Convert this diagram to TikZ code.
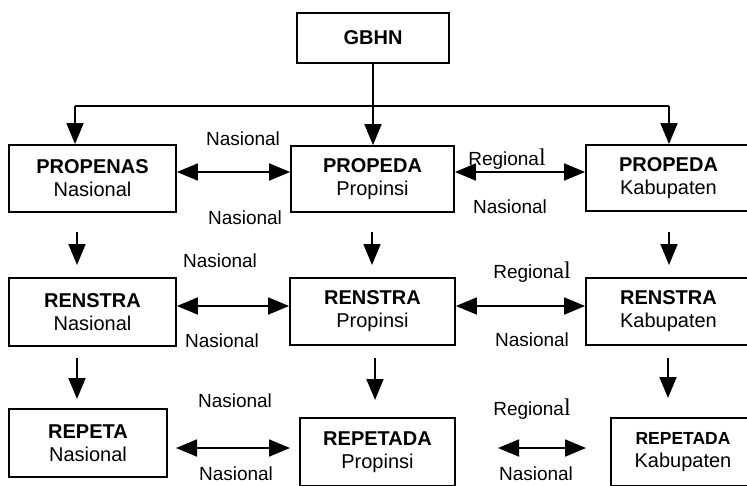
\documentclass[tikz,border=0pt]{standalone}
\usepackage{fontspec}
\setmainfont{Liberation Sans}
\newfontfamily\seriffam{Liberation Serif}
\usetikzlibrary{arrows.meta}

% "Regional" with its final l set in a serif face
\newcommand\regl{Regiona{\seriffam\fontsize{24}{24}\selectfont l}}

\tikzset{
  bigtri/.tip={Triangle[length=21pt,width=17pt]},
  box/.style={draw, line width=1.8pt, align=center, inner sep=0pt,
              font=\fontsize{20}{23}\selectfont},
  lbl/.style={anchor=base, inner sep=0pt, font=\fontsize{19}{22}\selectfont},
  arr/.style={line width=1.8pt, -bigtri},
  darr/.style={line width=1.8pt, bigtri-bigtri},
  plain/.style={line width=1.8pt}
}

\begin{document}
\begin{tikzpicture}[x=1pt, y=-1pt]
\useasboundingbox (0,0) rectangle (747,485);
\clip (0,0) rectangle (747,485);

% top level
\node[box, minimum width=152pt, minimum height=50pt] (gbhn) at (373,38) {\textbf{GBHN}};

% row 1
\node[box, minimum width=167pt, minimum height=67pt] (pn) at (92.5,178.5) {\textbf{PROPENAS}\\Nasional};
\node[box, minimum width=163pt, minimum height=66pt] (pp) at (372.5,179) {\textbf{PROPEDA}\\Propinsi};
\node[box, minimum width=165pt, minimum height=66pt] (pk) at (668.5,178) {\textbf{PROPEDA}\\Kabupaten};

% row 2
\node[box, minimum width=167pt, minimum height=68pt] (rn) at (92.5,312) {\textbf{RENSTRA}\\Nasional};
\node[box, minimum width=165pt, minimum height=67pt] (rp) at (372.5,311.5) {\textbf{RENSTRA}\\Propinsi};
\node[box, minimum width=165pt, minimum height=67pt] (rk) at (668.5,311.5) {\textbf{RENSTRA}\\Kabupaten};

% row 3
\node[box, minimum width=158pt, minimum height=68pt] (en) at (88,443) {\textbf{REPETA}\\Nasional};
\node[box, minimum width=155pt, minimum height=68pt] (ep) at (377.5,452) {\textbf{REPETADA}\\Propinsi};
\node[box, minimum width=144pt, minimum height=68pt] (ek) at (683,452) {{\fontsize{17.5}{23}\selectfont\textbf{REPETADA}}\\Kabupaten};

% distribution from GBHN
\coordinate (jl) at (75,106);
\coordinate (jr) at (669,106);
\draw[plain] (jl) -- (jr);
\draw[arr] (jl) -- (jl |- pn.north);
\draw[arr] (jr) -- (jr |- pk.north);
\draw[arr] (gbhn.south) -- (gbhn.south |- pp.north);

% downward arrows between rows
\coordinate (a1s) at (77,232);  \coordinate (a1e) at (77,265);
\coordinate (b1s) at (372,232); \coordinate (b1e) at (372,265);
\coordinate (c1s) at (669,232); \coordinate (c1e) at (669,265);
\coordinate (a2s) at (77,358);  \coordinate (a2e) at (77,399);
\coordinate (b2s) at (375,358); \coordinate (b2e) at (375,400);
\coordinate (c2s) at (668,358); \coordinate (c2e) at (668,398);
\draw[arr] (a1s) -- (a1e);
\draw[arr] (b1s) -- (b1e);
\draw[arr] (c1s) -- (c1e);
\draw[arr] (a2s) -- (a2e);
\draw[arr] (b2s) -- (b2e);
\draw[arr] (c2s) -- (c2e);

% horizontal two-way links
\coordinate (h1) at (0,172);
\coordinate (h2) at (0,306);
\draw[darr] (pn.east |- h1) -- (pp.west |- h1);
\draw[darr] (pp.east |- h1) -- (pk.west |- h1);
\draw[darr] (rn.east |- h2) -- (rp.west |- h2);
\draw[darr] (rp.east |- h2) -- (rk.west |- h2);
\coordinate (e1a) at (176,448); \coordinate (e1b) at (290,448);
\coordinate (e2a) at (498,448); \coordinate (e2b) at (586,448);
\draw[darr] (e1a) -- (e1b);
\draw[darr] (e2a) -- (e2b);

% link labels
\node[lbl] (l1) at (243,145) {Nasional};
\node[lbl] (l2) at (245,224) {Nasional};
\node[lbl] (l3) at (507,165) {\regl};
\node[lbl] (l4) at (510,213) {Nasional};
\node[lbl] (l5) at (220,267) {Nasional};
\node[lbl] (l6) at (222,347) {Nasional};
\node[lbl] (l7) at (532,278) {\regl};
\node[lbl] (l8) at (532,346) {Nasional};
\node[lbl] (l9) at (235,407) {Nasional};
\node[lbl] (l10) at (236,480) {Nasional};
\node[lbl] (l11) at (532,415) {\regl};
\node[lbl] (l12) at (536,480) {Nasional};
\end{tikzpicture}
\end{document}
